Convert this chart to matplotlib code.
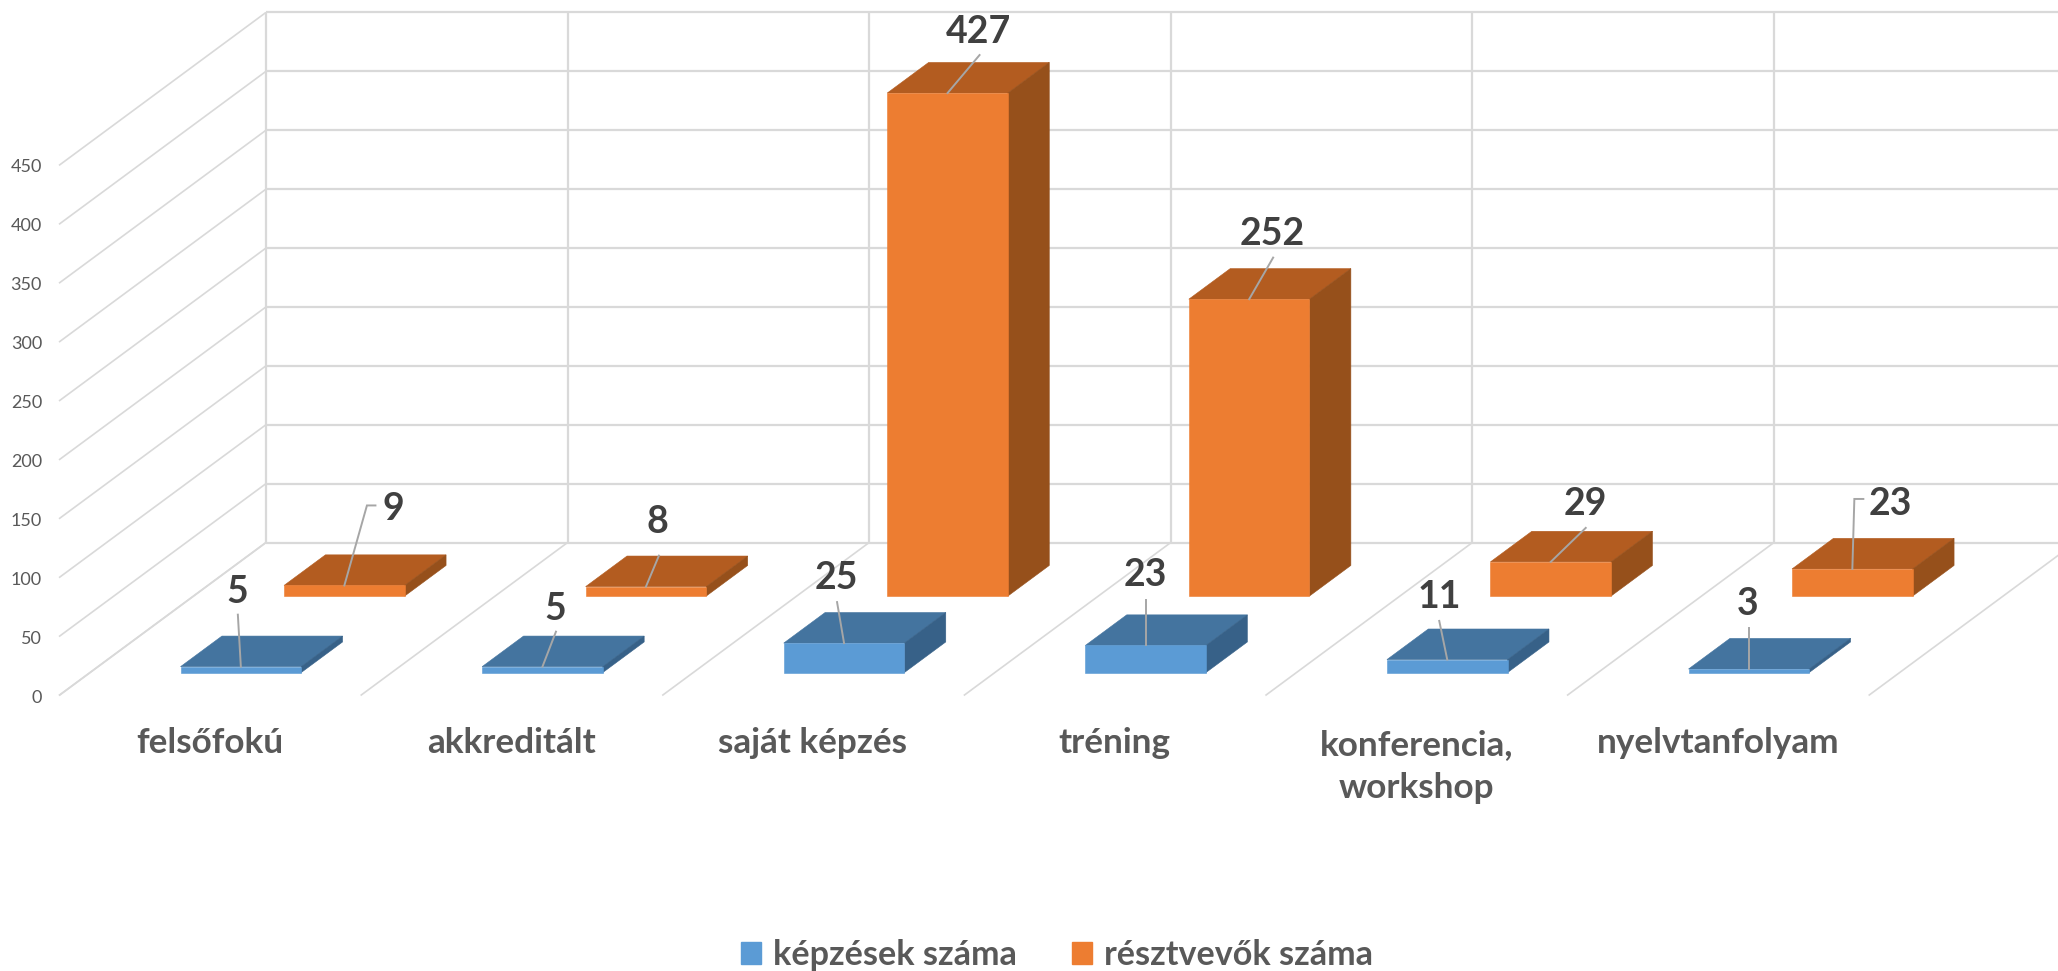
import matplotlib
matplotlib.use("Agg")
import matplotlib.pyplot as plt
from matplotlib.patches import Patch

categories = ["felsőfokú", "akkreditált", "saját képzés", "tréning", "konferencia,\nworkshop", "nyelvtanfolyam"]
kepzesek = [5, 5, 25, 23, 11, 3]
resztvevok = [9, 8, 427, 252, 29, 23]
y_ticks = [0, 50, 100, 150, 200, 250, 300, 350, 400, 450]

# layout, in pixels of the 2058x971 picture
W, H = 2058, 971
cat_px = 301.6      # width of one category
val_px = 1.178      # height of one value unit
x0_px, y0_px = 59, 695.5     # front corner of the floor
depth_dx, depth_dy = 207, 153   # shift from front to back wall

# leader end and label position, as (dx, up) from the top front centre of the bar
blue_leaders = [(-3, 52), (13.5, 35), (-7, 41), (0, 45), (-8, 38.7), (0, 41)]
blue_labels = [(-4, 75), (12.5, 58), (-7.4, 65), (0, 70), (-8, 62.7), (-1, 65)]
orange_leaders = [(22.6, 80), (13, 31), (32, 38), (24, 41.6), (35, 34), (2, 70)]
orange_labels = [(48.6, 76), (11.6, 65), (31.4, 61.5), (23.3, 65), (35, 58), (38, 65)]
orange_hooks = {0: 8.5, 5: 9}

plt.rcParams['font.family'] = ['Lato', 'DejaVu Sans']

fig = plt.figure(figsize=(W / 100, H / 100), dpi=100)
ax = fig.add_axes([0, 0, 1, 1])
# one axes over the whole picture: x in categories, y in values on the front plane
ax.set_xlim(-x0_px / cat_px, (W - x0_px) / cat_px)
ax.set_ylim((y0_px - H) / val_px, y0_px / val_px)
ax.axis("off")

dx = depth_dx / cat_px
dy = depth_dy / val_px


# Project a point (category pos, value, depth 0-1) on to the front plane
def proj(x, v, d):
    return x + d * dx, v + d * dy


def line3d(p1, p2, **kw):
    a, b = proj(*p1), proj(*p2)
    ax.plot([a[0], b[0]], [a[1], b[1]], color="#D9D9D9", solid_capstyle="butt", **kw)


# Walls and floor
for v in y_ticks:
    line3d((0, v, 1), (len(categories), v, 1), lw=1.6, zorder=1)
    line3d((0, v, 0), (0, v, 1), lw=1.2, zorder=1)
for i in range(len(categories) + 1):
    line3d((i, 0, 1), (i, y_ticks[-1], 1), lw=1.6, zorder=1)
    line3d((i, 0, 0), (i, 0, 1), lw=1.2, zorder=1)


def box(i, v, d0, d1, front, top, side):
    x0, x1 = i + 0.3, i + 0.7
    faces = [
        ([(x0, v, d0), (x1, v, d0), (x1, v, d1), (x0, v, d1)], top),
        ([(x1, 0, d0), (x1, v, d0), (x1, v, d1), (x1, 0, d1)], side),
        ([(x0, 0, d0), (x1, 0, d0), (x1, v, d0), (x0, v, d0)], front),
    ]
    for pts, col in faces:
        xy = [proj(*p) for p in pts]
        ax.fill([p[0] for p in xy], [p[1] for p in xy], facecolor=col, edgecolor=col, lw=0.4, zorder=3)


def label(i, v, d, text, leader, pos, hook=None):
    ax_, ay_ = proj(i + 0.5, v, d)
    ex, ey = ax_ + leader[0] / cat_px, ay_ + leader[1] / val_px
    xs, ys = [ax_, ex], [ay_, ey]
    if hook:
        xs.append(ex + hook / cat_px)
        ys.append(ey)
    ax.plot(xs, ys, color="#A6A6A6", lw=1.4, zorder=4, solid_joinstyle="miter")
    ax.text(ax_ + pos[0] / cat_px, ay_ + pos[1] / val_px, text, ha="center", va="center",
            fontsize=27, fontweight="bold", color="#404040", zorder=5)


for i in range(len(categories)):
    box(i, resztvevok[i], 0.65, 0.85, "#ED7D31", "#B35C20", "#96501B")
    box(i, kepzesek[i], 0.15, 0.35, "#5B9BD5", "#44749F", "#376188")
    label(i, kepzesek[i], 0.15, str(kepzesek[i]), blue_leaders[i], blue_labels[i])
    label(i, resztvevok[i], 0.65, str(resztvevok[i]), orange_leaders[i], orange_labels[i], orange_hooks.get(i))

    # two line labels keep their first line level with the others
    lines = categories[i].count("\n")
    ax.text(i + 0.5, -(743 + lines * 23.5 - y0_px) / val_px, categories[i], ha="center", va="center",
            fontsize=25.3, fontweight="bold", color="#595959", linespacing=1.45)

for v in y_ticks:
    ax.text(-17 / cat_px, v - 2 / val_px, str(v), ha="right", va="center", fontsize=13, color="#595959")

handles = [Patch(color="#5B9BD5", label="képzések száma"), Patch(color="#ED7D31", label="résztvevők száma")]
ax.legend(handles=handles, loc="center", bbox_to_anchor=(1057 / W, 1 - 955 / H), ncol=2, frameon=False,
          prop={"size": 24.6, "weight": "bold"}, labelcolor="#595959", handlelength=0.58, handleheight=0.58,
          handletextpad=0.37, columnspacing=1.6, borderpad=0)

fig.savefig("out.png", dpi=100)
